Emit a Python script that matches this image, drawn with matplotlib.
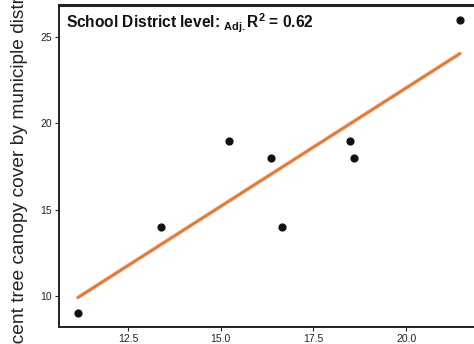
import matplotlib.pyplot as plt
import numpy as np

plt.rcParams['font.family'] = ['Liberation Sans', 'DejaVu Sans']
plt.rcParams['mathtext.fontset'] = 'custom'
plt.rcParams['mathtext.rm'] = 'Liberation Sans'
plt.rcParams['mathtext.bf'] = 'Liberation Sans:bold'

# values
canopy_sd = [11.15, 13.39, 15.22, 16.35, 16.65, 18.48, 18.59, 21.45]
canopy_muni = [9, 14, 19, 18, 14, 19, 18, 26]
xticks = [12.5, 15.0, 17.5, 20.0]
yticks = [10, 15, 20, 25]

fig = plt.figure(figsize=(4.74, 3.44), dpi=100)
ax = fig.add_axes([0.1245, 0.049, 0.8755, 0.9366])

# fitted line
slope, icpt = np.polyfit(canopy_sd, canopy_muni, 1)
xs = np.array([min(canopy_sd), max(canopy_sd)])
ax.plot(xs, slope * xs + icpt, color='#E8894A', lw=3.2, alpha=0.35, solid_capstyle='round')
ax.plot(xs, slope * xs + icpt, color='#E07A38', lw=2.0, solid_capstyle='round')

ax.scatter(canopy_sd, canopy_muni, s=24, color='#111111', zorder=3)

ax.set_xlim(10.64, 21.83)
ax.set_ylim(8.2, 26.85)
ax.set_xticks(xticks)
ax.set_xticklabels(['12.5', '15.0', '17.5', '20.0'])
ax.set_yticks(yticks)
ax.tick_params(labelsize=7.5, length=3, width=0.8, colors='#222222', pad=2)

for s in ['left', 'bottom']:
    ax.spines[s].set_linewidth(1.4)
    ax.spines[s].set_color('#222222')
ax.spines['top'].set_linewidth(2.2)
ax.spines['top'].set_color('#222222')
ax.spines['right'].set_visible(False)

ax.text(0.018, 0.978,
        'School District level: ' + r'$_{\mathbf{Adj.}}\mathbf{R^2}$' + ' = 0.62',
        transform=ax.transAxes, ha='left', va='top',
        fontsize=11.2, fontweight='bold', color='#111111')

ax.set_ylabel('Percent tree canopy cover by municiple district', fontsize=13.8, color='#222222')
ax.yaxis.set_label_coords(-0.074, 0.47)

fig.savefig('out.png', dpi=100)
